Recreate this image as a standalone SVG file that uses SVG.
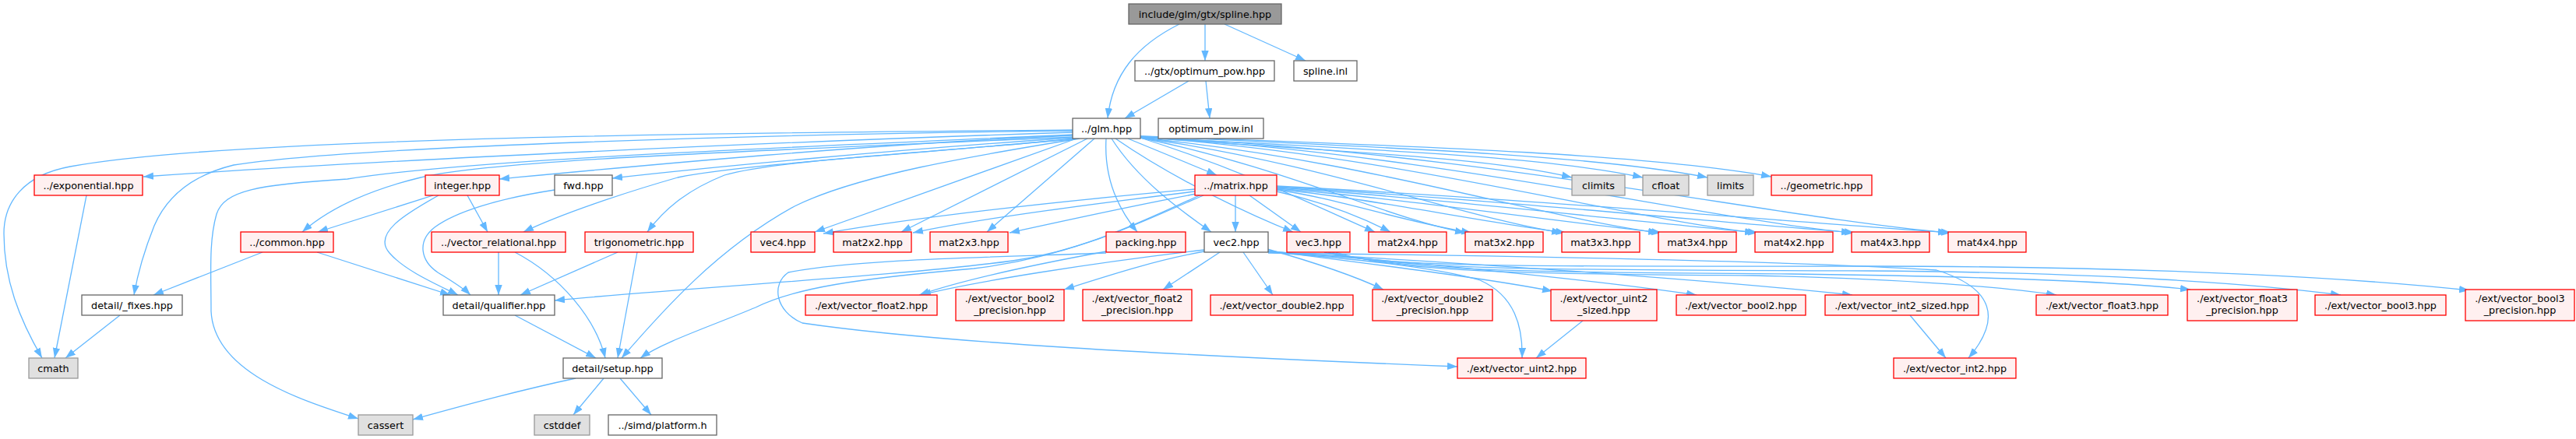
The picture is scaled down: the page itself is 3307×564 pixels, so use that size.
<svg xmlns="http://www.w3.org/2000/svg" width="3307" height="564" viewBox="0 0 3307 564">
<defs>
<marker id="a" markerUnits="userSpaceOnUse" markerWidth="14" markerHeight="10" refX="13" refY="4.7" orient="auto"><path d="M0,0 L13,4.7 L0,9.4 z" fill="#63b8ff"/></marker>
</defs>
<style>
rect.r{fill:#fff0f0;stroke:#ff0000;stroke-width:1.3}
rect.w{fill:#ffffff;stroke:#666666;stroke-width:1.3}
rect.g{fill:#e0e0e0;stroke:#999999;stroke-width:1.3}
rect.root{fill:#999999;stroke:#666666;stroke-width:1.3}
text{font-family:"DejaVu Sans",sans-serif;font-size:12.8px;text-anchor:middle;fill:#000}
.e{fill:none;stroke:#63b8ff;stroke-width:1.3;marker-end:url(#a)}
</style>
<rect x="0" y="0" width="3307" height="564" fill="#ffffff"/>
<g id="edges">
<path class="e" d="M1514,31 C1460,58 1428,95 1422,152"/>
<path class="e" d="M1547,31 L1547,78"/>
<path class="e" d="M1572,31 L1676,78"/>
<path class="e" d="M1526,104 L1444,152"/>
<path class="e" d="M1548,104 L1553,152"/>
<path class="e" d="M1377,170 C1000,182 500,205 184,227"/>
<path class="e" d="M1377,167 C1000,170 300,175 90,214 C30,225 5,260 5,300 C5,360 25,410 54,460"/>
<path class="e" d="M1377,168 C1000,172 450,188 300,212 C235,228 210,262 198,290 C186,320 177,350 172,379"/>
<path class="e" d="M1377,173 C1000,190 600,205 446,230 C330,237 288,245 278,275 C268,310 271,350 271,400 C275,480 390,515 460,538"/>
<path class="e" d="M1377,176 C950,195 640,205 540,228 C470,245 420,270 388,298"/>
<path class="e" d="M1377,174 C1100,186 800,215 641,230"/>
<path class="e" d="M1377,177 C1150,192 900,216 786,229"/>
<path class="e" d="M1381,178 C1200,196 960,210 870,228 C800,248 720,275 672,298"/>
<path class="e" d="M1384,178 C1200,196 1000,205 930,225 C880,245 852,270 831,298"/>
<path class="e" d="M1386,178 C1250,200 1100,225 1020,265 C920,320 850,400 798,460"/>
<path class="e" d="M1382,178 L1046,298"/>
<path class="e" d="M1396,178 L1157,298"/>
<path class="e" d="M1405,178 L1267,298"/>
<path class="e" d="M1420,178 C1417,230 1437,270 1460,298"/>
<path class="e" d="M1427,178 C1460,230 1515,270 1555,298"/>
<path class="e" d="M1432,178 C1500,225 1590,270 1660,298"/>
<path class="e" d="M1448,178 L1562,225"/>
<path class="e" d="M1464,176 C1700,195 1900,200 2018,228"/>
<path class="e" d="M1464,176 C1750,192 1980,200 2109,228"/>
<path class="e" d="M1464,175 C1800,190 2050,200 2192,228"/>
<path class="e" d="M1464,175 C1850,188 2130,200 2274,227"/>
<path class="e" d="M1464,177 C1600,220 1700,270 1765,298"/>
<path class="e" d="M1464,177 C1650,215 1780,280 1881,299"/>
<path class="e" d="M1464,177 C1700,210 1880,280 2005,299"/>
<path class="e" d="M1464,177 C1750,205 1980,280 2129,299"/>
<path class="e" d="M1464,176 C1800,200 2080,280 2253,299"/>
<path class="e" d="M1464,176 C1850,198 2180,280 2377,299"/>
<path class="e" d="M1464,176 C1900,195 2280,280 2501,299"/>
<path class="e" d="M1534,243 C1400,255 1200,275 1057,300"/>
<path class="e" d="M1534,246 C1420,260 1260,280 1172,299"/>
<path class="e" d="M1536,249 C1450,265 1360,285 1296,299"/>
<path class="e" d="M1586,251 L1586,298"/>
<path class="e" d="M1604,251 L1670,298"/>
<path class="e" d="M1639,246 C1700,260 1750,280 1785,298"/>
<path class="e" d="M1639,244 C1720,255 1800,285 1889,299"/>
<path class="e" d="M1639,243 C1760,255 1900,285 2010,299"/>
<path class="e" d="M1639,242 C1800,255 2000,285 2133,299"/>
<path class="e" d="M1639,241 C1850,255 2100,285 2257,299"/>
<path class="e" d="M1639,240 C1900,255 2200,285 2381,299"/>
<path class="e" d="M1639,239 C1950,255 2300,285 2505,299"/>
<path class="e" d="M1545,251 C1480,278 1400,320 1300,335 C1150,355 900,368 712,386"/>
<path class="e" d="M1540,251 C1470,282 1380,330 1250,345 C1100,358 1020,370 970,395 C910,420 850,440 822,460"/>
<path class="e" d="M556,251 L408,298"/>
<path class="e" d="M600,251 L626,298"/>
<path class="e" d="M563,251 C520,275 478,300 500,325 C520,348 560,365 588,379"/>
<path class="e" d="M712,244 C640,255 585,272 558,292 C535,310 540,335 562,350 C578,360 595,370 604,379"/>
<path class="e" d="M337,324 L197,379"/>
<path class="e" d="M407,324 L578,379"/>
<path class="e" d="M111,251 L70,460"/>
<path class="e" d="M154,405 L84,460"/>
<path class="e" d="M640,324 L640,379"/>
<path class="e" d="M661,324 C720,355 765,410 777,460"/>
<path class="e" d="M793,324 L668,379"/>
<path class="e" d="M818,324 L793,460"/>
<path class="e" d="M661,405 L765,460"/>
<path class="e" d="M739,486 C650,505 580,525 530,539"/>
<path class="e" d="M775,486 L736,533"/>
<path class="e" d="M796,486 L836,533"/>
<path class="e" d="M1420,323 C1300,345 1220,365 1180,379"/>
<path class="e" d="M1420,325 C1300,330 1100,332 1012,350 C990,365 995,400 1030,415 C1200,440 1500,456 1871,471"/>
<path class="e" d="M1546,321 C1400,338 1250,362 1182,379"/>
<path class="e" d="M1546,323 C1480,335 1420,355 1366,372"/>
<path class="e" d="M1566,324 L1493,372"/>
<path class="e" d="M1596,324 L1634,379"/>
<path class="e" d="M1627,320 C1680,335 1740,355 1776,372"/>
<path class="e" d="M1628,322 C1750,338 1900,356 1993,374"/>
<path class="e" d="M1628,323 C1800,335 2050,360 2178,379"/>
<path class="e" d="M1628,324 C1850,335 2200,360 2378,379"/>
<path class="e" d="M1628,324 C1750,333 1850,345 1900,360 C1945,380 1955,420 1954,460"/>
<path class="e" d="M1628,325 C1900,328 2300,335 2486,347 C2560,370 2570,410 2527,460"/>
<path class="e" d="M1700,324 C1780,345 2000,342 2400,342 C2800,342 3050,360 3170,373"/>
<path class="e" d="M1705,324 C1790,347 2000,347 2400,348 C2700,350 2900,365 3005,379"/>
<path class="e" d="M1710,324 C1800,350 2000,350 2300,352 C2550,355 2720,362 2812,372"/>
<path class="e" d="M1715,324 C1800,352 2000,352 2250,354 C2450,358 2580,370 2640,379"/>
<path class="e" d="M2032,412 L1972,460"/>
<path class="e" d="M2452,405 L2498,460"/>
</g>
<g id="n-spline"><rect class="root" x="1449" y="5" width="196" height="26"/><text x="1547" y="22.6">include/glm/gtx/spline.hpp</text></g>
<g id="n-optpow"><rect class="w" x="1457" y="78" width="179" height="26"/><text x="1546.5" y="95.6">../gtx/optimum_pow.hpp</text></g>
<g id="n-splineinl"><rect class="w" x="1661" y="78" width="81" height="26"/><text x="1701.5" y="95.6">spline.inl</text></g>
<g id="n-glm"><rect class="w" x="1377" y="152" width="87" height="26"/><text x="1420.5" y="169.6">../glm.hpp</text></g>
<g id="n-optinl"><rect class="w" x="1487" y="152" width="135" height="26"/><text x="1554.5" y="169.6">optimum_pow.inl</text></g>
<g id="n-exponential"><rect class="r" x="44" y="225" width="139" height="26"/><text x="113.5" y="242.6">../exponential.hpp</text></g>
<g id="n-integer"><rect class="r" x="546" y="225" width="95" height="26"/><text x="593.5" y="242.6">integer.hpp</text></g>
<g id="n-fwd"><rect class="w" x="712" y="225" width="74" height="26"/><text x="749" y="242.6">fwd.hpp</text></g>
<g id="n-matrix"><rect class="r" x="1534" y="225" width="105" height="26"/><text x="1586.5" y="242.6">../matrix.hpp</text></g>
<g id="n-climits"><rect class="g" x="2018" y="225" width="68" height="26"/><text x="2052" y="242.6">climits</text></g>
<g id="n-cfloat"><rect class="g" x="2109" y="225" width="59" height="26"/><text x="2138.5" y="242.6">cfloat</text></g>
<g id="n-limits"><rect class="g" x="2192" y="225" width="59" height="26"/><text x="2221.5" y="242.6">limits</text></g>
<g id="n-geometric"><rect class="r" x="2274" y="225" width="129" height="26"/><text x="2338.5" y="242.6">../geometric.hpp</text></g>
<g id="n-common"><rect class="r" x="309" y="298" width="119" height="26"/><text x="368.5" y="315.6">../common.hpp</text></g>
<g id="n-vecrel"><rect class="r" x="554" y="298" width="172" height="26"/><text x="640" y="315.6">../vector_relational.hpp</text></g>
<g id="n-trig"><rect class="r" x="751" y="298" width="139" height="26"/><text x="820.5" y="315.6">trigonometric.hpp</text></g>
<g id="n-vec4"><rect class="r" x="964" y="298" width="82" height="26"/><text x="1005" y="315.6">vec4.hpp</text></g>
<g id="n-mat2x2"><rect class="r" x="1070" y="298" width="100" height="26"/><text x="1120" y="315.6">mat2x2.hpp</text></g>
<g id="n-mat2x3"><rect class="r" x="1194" y="298" width="100" height="26"/><text x="1244" y="315.6">mat2x3.hpp</text></g>
<g id="n-packing"><rect class="r" x="1420" y="298" width="102" height="26"/><text x="1471" y="315.6">packing.hpp</text></g>
<g id="n-vec2"><rect class="w" x="1546" y="298" width="82" height="26"/><text x="1587" y="315.6">vec2.hpp</text></g>
<g id="n-vec3"><rect class="r" x="1652" y="298" width="81" height="26"/><text x="1692.5" y="315.6">vec3.hpp</text></g>
<g id="n-mat2x4"><rect class="r" x="1757" y="298" width="100" height="26"/><text x="1807" y="315.6">mat2x4.hpp</text></g>
<g id="n-mat3x2"><rect class="r" x="1881" y="298" width="100" height="26"/><text x="1931" y="315.6">mat3x2.hpp</text></g>
<g id="n-mat3x3"><rect class="r" x="2005" y="298" width="100" height="26"/><text x="2055" y="315.6">mat3x3.hpp</text></g>
<g id="n-mat3x4"><rect class="r" x="2129" y="298" width="100" height="26"/><text x="2179" y="315.6">mat3x4.hpp</text></g>
<g id="n-mat4x2"><rect class="r" x="2253" y="298" width="100" height="26"/><text x="2303" y="315.6">mat4x2.hpp</text></g>
<g id="n-mat4x3"><rect class="r" x="2377" y="298" width="100" height="26"/><text x="2427" y="315.6">mat4x3.hpp</text></g>
<g id="n-mat4x4"><rect class="r" x="2501" y="298" width="100" height="26"/><text x="2551" y="315.6">mat4x4.hpp</text></g>
<g id="n-fixes"><rect class="w" x="105" y="379" width="129" height="26"/><text x="169.5" y="396.6">detail/_fixes.hpp</text></g>
<g id="n-qualifier"><rect class="w" x="569" y="379" width="143" height="26"/><text x="640.5" y="396.6">detail/qualifier.hpp</text></g>
<g id="n-float2"><rect class="r" x="1034" y="379" width="169" height="26"/><text x="1118.5" y="396.6">./ext/vector_float2.hpp</text></g>
<g id="n-bool2p"><rect class="r" x="1227" y="372" width="139" height="40"/><text x="1296.5" y="387.5">./ext/vector_bool2</text><text x="1296.5" y="402.5">_precision.hpp</text></g>
<g id="n-float2p"><rect class="r" x="1390" y="372" width="140" height="40"/><text x="1460" y="387.5">./ext/vector_float2</text><text x="1460" y="402.5">_precision.hpp</text></g>
<g id="n-double2"><rect class="r" x="1554" y="379" width="183" height="26"/><text x="1645.5" y="396.6">./ext/vector_double2.hpp</text></g>
<g id="n-double2p"><rect class="r" x="1762" y="372" width="154" height="40"/><text x="1839" y="387.5">./ext/vector_double2</text><text x="1839" y="402.5">_precision.hpp</text></g>
<g id="n-uint2s"><rect class="r" x="1991" y="372" width="136" height="40"/><text x="2059" y="387.5">./ext/vector_uint2</text><text x="2059" y="402.5">_sized.hpp</text></g>
<g id="n-bool2"><rect class="r" x="2152" y="379" width="166" height="26"/><text x="2235" y="396.6">./ext/vector_bool2.hpp</text></g>
<g id="n-int2s"><rect class="r" x="2343" y="379" width="197" height="26"/><text x="2441.5" y="396.6">./ext/vector_int2_sized.hpp</text></g>
<g id="n-float3"><rect class="r" x="2614" y="379" width="169" height="26"/><text x="2698.5" y="396.6">./ext/vector_float3.hpp</text></g>
<g id="n-float3p"><rect class="r" x="2808" y="372" width="141" height="40"/><text x="2878.5" y="387.5">./ext/vector_float3</text><text x="2878.5" y="402.5">_precision.hpp</text></g>
<g id="n-bool3"><rect class="r" x="2972" y="379" width="168" height="26"/><text x="3056" y="396.6">./ext/vector_bool3.hpp</text></g>
<g id="n-bool3p"><rect class="r" x="3165" y="372" width="140" height="40"/><text x="3235" y="387.5">./ext/vector_bool3</text><text x="3235" y="402.5">_precision.hpp</text></g>
<g id="n-cmath"><rect class="g" x="37" y="460" width="63" height="26"/><text x="68.5" y="477.6">cmath</text></g>
<g id="n-setup"><rect class="w" x="723" y="460" width="127" height="26"/><text x="786.5" y="477.6">detail/setup.hpp</text></g>
<g id="n-uint2"><rect class="r" x="1871" y="460" width="165" height="26"/><text x="1953.5" y="477.6">./ext/vector_uint2.hpp</text></g>
<g id="n-int2"><rect class="r" x="2431" y="460" width="157" height="26"/><text x="2509.5" y="477.6">./ext/vector_int2.hpp</text></g>
<g id="n-cassert"><rect class="g" x="460" y="533" width="70" height="26"/><text x="495" y="550.6">cassert</text></g>
<g id="n-cstddef"><rect class="g" x="686" y="533" width="71" height="26"/><text x="721.5" y="550.6">cstddef</text></g>
<g id="n-platform"><rect class="w" x="781" y="533" width="139" height="26"/><text x="850.5" y="550.6">../simd/platform.h</text></g>
</svg>
